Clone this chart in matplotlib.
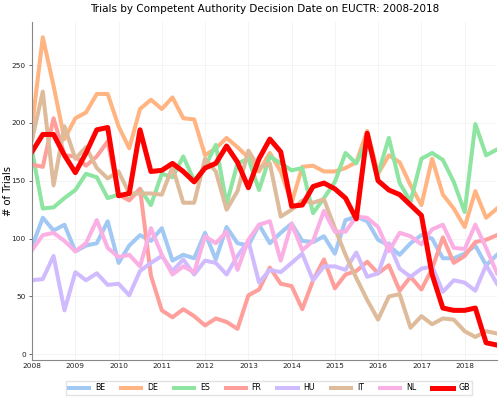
import matplotlib
matplotlib.use('Agg')
import matplotlib.pyplot as plt
import matplotlib.dates as mdates
import pandas as pd

quarters = pd.date_range('2008-01-01', '2018-10-01', freq='QS')

be = [93, 118, 107, 112, 89, 94, 96, 115, 79, 94, 103, 98, 109, 81, 86, 83, 105, 82, 110, 96, 94, 112,
      96, 105, 113, 98, 97, 102, 87, 116, 119, 115, 99, 94, 86, 96, 103, 100, 83, 83, 87, 94, 77, 86]
de = [197, 274, 232, 186, 204, 209, 225, 225, 197, 178, 212, 220, 212, 222, 204, 203, 172, 178, 187, 179, 170, 158,
      174, 158, 131, 162, 163, 158, 158, 161, 166, 193, 156, 172, 166, 146, 129, 169, 138, 126, 110, 141, 118, 126]
es = [176, 126, 127, 135, 142, 156, 153, 135, 138, 134, 143, 129, 156, 153, 171, 150, 162, 181, 130, 165, 169, 142,
      171, 165, 159, 161, 122, 135, 149, 174, 165, 185, 156, 187, 148, 132, 169, 174, 168, 149, 123, 199, 172, 177]
fr = [164, 162, 204, 172, 171, 163, 171, 184, 138, 133, 143, 68, 38, 32, 39, 33, 25, 31, 28, 22, 51, 56,
      75, 61, 59, 39, 64, 82, 57, 69, 72, 80, 70, 77, 55, 67, 56, 74, 101, 79, 85, 97, 99, 103]
hu = [64, 65, 85, 38, 71, 64, 70, 60, 61, 51, 72, 79, 85, 72, 82, 69, 81, 79, 69, 85, 98, 62,
      73, 71, 79, 87, 64, 76, 76, 73, 88, 67, 70, 96, 74, 67, 74, 76, 54, 64, 62, 55, 77, 61]
it = [185, 227, 146, 197, 169, 179, 161, 152, 158, 139, 139, 139, 138, 162, 131, 131, 169, 158, 125, 141, 176, 161,
      165, 119, 125, 133, 131, 134, 109, 86, 66, 47, 30, 50, 52, 23, 33, 26, 31, 30, 20, 15, 20, 18]
nl = [90, 103, 105, 98, 89, 96, 116, 92, 84, 86, 76, 109, 86, 69, 76, 71, 102, 96, 106, 73, 99, 112,
      115, 81, 113, 90, 98, 124, 106, 106, 119, 118, 110, 89, 105, 102, 95, 108, 112, 92, 91, 112, 92, 70]
gb = [175, 190, 190, 172, 157, 174, 194, 196, 137, 139, 194, 158, 159, 165, 158, 149, 161, 165, 180, 166, 144, 169,
      186, 175, 128, 129, 145, 148, 143, 135, 117, 191, 150, 142, 138, 129, 120, 69, 40, 38, 38, 40, 10, 8]

countries = ['BE', 'DE', 'ES', 'FR', 'HU', 'IT', 'NL']
series = [be, de, es, fr, hu, it, nl]
colors = ['#a1c9f4', '#ffb482', '#8de5a1', '#ff9f9b', '#d0bbff', '#debb9b', '#fab0e4']

plt.rcParams['font.family'] = ['DejaVu Sans']
fig, ax = plt.subplots(figsize=(5, 3.97), dpi=100)
fig.subplots_adjust(left=0.064, right=0.994, top=0.945, bottom=0.092)

for name, vals, col in zip(countries, series, colors):
    ax.plot(quarters, vals, color=col, linewidth=2.9, label=name)
ax.plot(quarters, gb, color='red', linewidth=3.6, label='GB')

ax.set_xlim(quarters[0], quarters[-1])
ax.set_yticks([0, 50, 100, 150, 200, 250])
ax.xaxis.set_major_locator(mdates.YearLocator())
ax.xaxis.set_major_formatter(mdates.DateFormatter('%Y'))
ax.tick_params(labelsize=5.3, color='#555555', labelcolor='#222222')
ax.tick_params(axis='y', length=2.5, width=0.6, pad=2)
ax.tick_params(axis='x', length=0, pad=1.8)
for lab in ax.get_xticklabels():
    lab.set_rotation(0)
    lab.set_horizontalalignment('center')

ax.grid(True, color='#f2f2f2', linewidth=0.6)
ax.set_axisbelow(True)
for side in ['top', 'right']:
    ax.spines[side].set_visible(False)
for side in ['left', 'bottom']:
    ax.spines[side].set_color('#888888')
    ax.spines[side].set_linewidth(0.8)

ax.set_title('Trials by Competent Authority Decision Date on EUCTR: 2008-2018', fontsize=7.5, pad=7)
ax.set_ylabel('# of Trials', fontsize=7.2)
ax.yaxis.set_label_coords(-0.041, 0.5)

ax.legend(loc='upper center', bbox_to_anchor=(0.51, -0.048), ncol=8, fontsize=5.7,
          handlelength=2.6, handletextpad=0.7, columnspacing=2.0, frameon=True,
          edgecolor='#dddddd', fancybox=False, borderpad=0.35)

fig.savefig('out.png', dpi=100)
